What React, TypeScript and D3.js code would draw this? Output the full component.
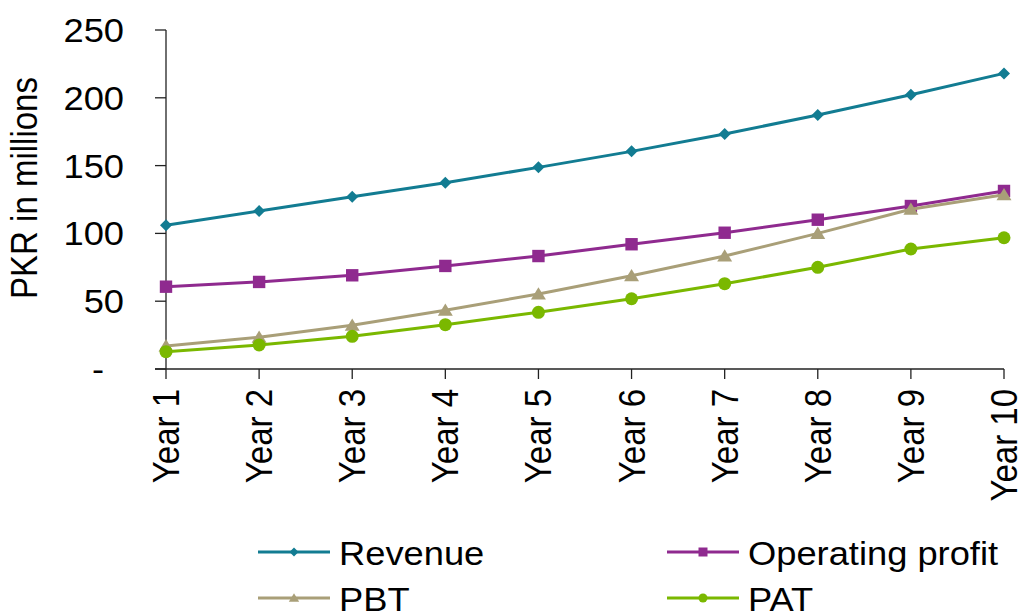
import React from 'react';
import * as d3 from 'd3';

const years = ['Year 1', 'Year 2', 'Year 3', 'Year 4', 'Year 5', 'Year 6', 'Year 7', 'Year 8', 'Year 9', 'Year 10'];
const revenue = [106, 116.5, 127, 137.4, 148.7, 160.5, 173.3, 187.3, 202.3, 218];
const operatingProfit = [60.7, 64.2, 69.1, 76, 83.3, 92, 100.5, 110.1, 120.2, 131.3];
const pbt = [17, 23.4, 32.2, 43.3, 55.3, 68.8, 83.3, 100, 117.8, 128.5];
const pat = [12.8, 17.7, 24.1, 32.7, 41.8, 51.8, 62.9, 75, 88.5, 96.8];
const yTicks = [0, 50, 100, 150, 200, 250];
const yTickLabels = ['-', '50', '100', '150', '200', '250'];

const seriesNames = ['Revenue', 'Operating profit', 'PBT', 'PAT'];
const seriesColors = ['#127C92', '#8F2A8F', '#A99F78', '#7AB800'];
const seriesMarkers = ['diamond', 'square', 'triangle', 'circle'];
const seriesValues = [revenue, operatingProfit, pbt, pat];

const FONT = '"Liberation Sans", Arial, sans-serif';
const SX = 1.1;
const FS = 33;

function markerPath(type: string, s: number): string {
  if (type === 'diamond') return `M0,${-s}L${s},0L0,${s}L${-s},0Z`;
  if (type === 'square') return `M${-s},${-s}H${s}V${s}H${-s}Z`;
  if (type === 'triangle') return `M0,${-s * 1.05}L${s * 1.15},${s * 0.85}H${-s * 1.15}Z`;
  const p = d3.path();
  p.arc(0, 0, s, 0, Math.PI * 2);
  p.closePath();
  return p.toString();
}
const markerSize: Record<string, number> = { diamond: 6, square: 6.2, triangle: 6.5, circle: 6.5 };

export default function App() {
  const x = d3.scalePoint<string>().domain(years).range([166, 1004]);
  const y = d3.scaleLinear().domain([0, 250]).range([369, 30]);
  const line = d3.line<number>().x((_, i) => x(years[i]) as number).y((d) => y(d));

  const legendPos = [
    { lx: 258, ly: 552 },
    { lx: 667, ly: 552 },
    { lx: 258, ly: 598 },
    { lx: 667, ly: 598 },
  ];

  return (
    <svg width={1025} height={611} style={{ position: 'absolute', left: 0, top: 0, background: '#fff' }} fontFamily={FONT}>
      <rect x={0} y={0} width={1025} height={611} fill="#fff" />
      {/* y axis */}
      <line x1={166} x2={166} y1={y(250)} y2={y(0)} stroke="#222" strokeWidth={1.3} />
      {yTicks.map((t, i) => (
        <g key={t}>
          <line x1={155} x2={166} y1={y(t)} y2={y(t)} stroke="#222" strokeWidth={1.3} />
          <g transform={`translate(${t === 0 ? 104 : 124},${y(t) + 12}) scale(${SX},1)`}>
            <text textAnchor="end" fontSize={FS} fill="#000">{yTickLabels[i]}</text>
          </g>
        </g>
      ))}
      {/* x axis */}
      <line x1={155} x2={1004} y1={y(0)} y2={y(0)} stroke="#222" strokeWidth={1.3} />
      {years.map((yr) => (
        <g key={yr}>
          <line x1={x(yr)} x2={x(yr)} y1={y(0)} y2={y(0) + 10} stroke="#222" strokeWidth={1.3} />
          <g transform={`translate(${(x(yr) as number) + 13},${389}) scale(${SX},1)`}>
            <text transform="rotate(-90)" textAnchor="end" fontSize={FS} fill="#000">{yr}</text>
          </g>
        </g>
      ))}
      {/* y label */}
      <g transform={`translate(37,188) scale(${SX},1)`}>
        <text transform="rotate(-90)" textAnchor="middle" fontSize={FS} fill="#000">PKR in millions</text>
      </g>
      {/* series */}
      {seriesValues.map((vals, si) => (
        <g key={seriesNames[si]}>
          <path d={line(vals) || ''} fill="none" stroke={seriesColors[si]} strokeWidth={3} strokeLinejoin="round" />
          {vals.map((v, i) => (
            <path
              key={i}
              transform={`translate(${x(years[i])},${y(v)})`}
              d={markerPath(seriesMarkers[si], markerSize[seriesMarkers[si]])}
              fill={seriesColors[si]}
            />
          ))}
        </g>
      ))}
      {/* legend */}
      {seriesNames.map((name, si) => {
        const { lx, ly } = legendPos[si];
        return (
          <g key={name}>
            <line x1={lx} x2={lx + 72} y1={ly} y2={ly} stroke={seriesColors[si]} strokeWidth={3} />
            <path transform={`translate(${lx + 36},${ly})`} d={markerPath(seriesMarkers[si], 4.5)} fill={seriesColors[si]} />
            <g transform={`translate(${lx + 81},${ly + 12.5}) scale(${SX},1)`}>
              <text fontSize={FS} fill="#000">{name}</text>
            </g>
          </g>
        );
      })}
    </svg>
  );
}
